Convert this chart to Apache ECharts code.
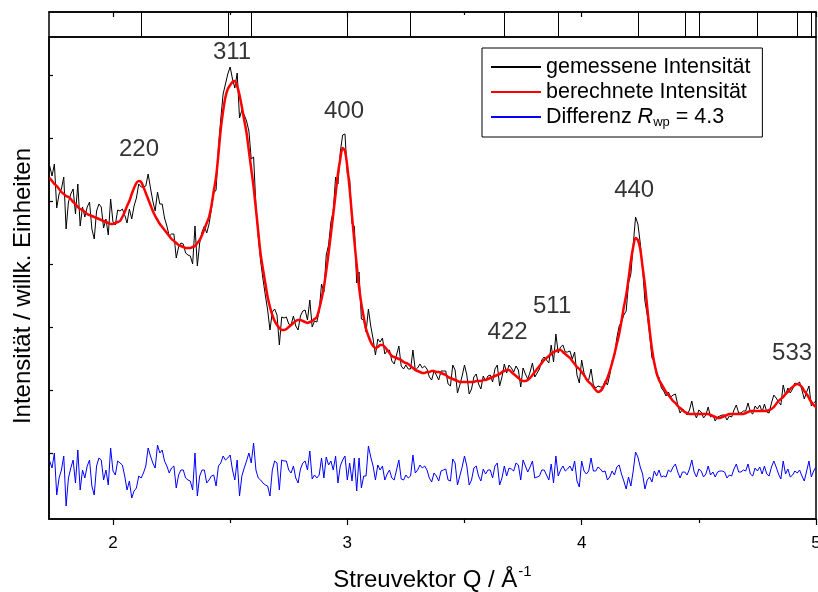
<!DOCTYPE html>
<html>
<head>
<meta charset="utf-8">
<script src="https://cdn.jsdelivr.net/npm/echarts@6/dist/echarts.min.js"></script>
<style>html,body{margin:0;padding:0;background:#fff}#c{width:818px;height:592px}</style>
</head>
<body>
<div id="c"></div>
<script>
// Scan grid
var qStart = 1.73;
var qStep = 0.01;

// gemessene Intensität (measured), one value per scan step
var measured = [
353,343,355,311,325,330,342,290,317,325,
330,305,335,293,312,302,312,317,290,280,
308,315,312,291,300,284,320,297,294,309,
308,310,304,296,310,300,313,321,335,332,
332,333,345,331,318,308,327,315,315,301,
293,283,285,285,261,272,276,275,266,264,
263,255,293,253,276,287,293,286,295,310,
326,329,372,400,425,435,445,452,440,431,
446,401,409,404,398,388,360,362,313,282,
258,240,224,209,189,207,210,204,174,202,
201,202,195,194,203,193,189,203,208,209,
199,219,192,198,197,208,235,227,264,274,
297,308,342,335,367,384,385,345,340,295,
293,236,247,200,199,187,210,193,180,164,
180,177,181,165,168,169,158,155,164,173,
153,150,154,150,150,169,149,151,155,151,
153,150,142,139,148,144,139,148,148,148,
135,133,154,149,126,134,143,154,144,125,
130,142,145,135,130,143,138,143,144,137,
150,154,133,142,155,146,154,151,147,153,
149,132,151,145,140,147,156,142,146,150,
159,162,159,156,174,157,185,166,172,174,
167,167,168,160,167,144,136,159,146,139,
139,150,134,131,133,132,132,138,134,144,
158,163,181,193,197,204,208,236,245,274,
302,295,276,251,218,204,185,161,158,143,
142,131,128,123,127,122,124,125,114,106,
110,108,104,109,118,106,101,109,107,101,
104,112,102,104,98,102,103,104,104,99,
103,102,109,114,106,106,108,108,116,107,
105,113,110,114,107,115,107,106,116,124,
121,117,114,134,124,131,126,130,136,135,
137,129,120,127,133,113,116,118
];

// berechnete Intensität (calculated)
var calculated = [
341,338,335,333,330,327,325,323,322,320,
317,315,312,310,309,307,305,304,303,302,
301,300,299,298,297,296,295,295,296,297,
298,302,307,313,318,325,331,336,338,337,
332,326,320,314,308,303,299,295,292,289,
286,283,280,278,276,274,273,272,271,271,
271,272,273,276,279,284,290,296,302,313,
328,342,365,390,408,422,430,434,437,438,
433,424,412,399,386,368,350,332,310,287,
265,250,236,222,212,204,198,194,191,189,
189,190,192,194,196,198,199,199,198,197,
196,197,198,200,202,210,220,232,248,266,
285,305,325,345,360,371,368,352,330,303,
278,254,232,215,202,190,183,177,173,171,
172,174,174,172,169,166,163,162,161,160,
159,157,156,155,153,151,149,148,147,146,
146,147,147,148,148,147,147,146,145,144,
142,141,140,139,138,137,137,137,137,137,
137,137,138,138,138,139,139,140,141,142,
143,144,145,147,148,149,149,147,145,143,
141,139,138,138,139,141,144,147,150,153,
156,159,161,163,165,167,168,169,169,167,
165,163,161,158,155,152,150,147,144,140,
137,135,132,129,127,128,131,136,141,148,
156,165,175,185,198,212,224,240,258,272,
281,279,270,252,234,211,189,170,156,146,
139,135,131,127,124,121,118,116,113,111,
109,107,106,105,105,105,105,105,105,105,
105,105,104,103,102,101,101,102,103,104,
105,105,105,105,105,105,105,106,107,108,
108,108,108,108,108,108,108,109,110,112,
115,118,120,122,125,127,130,132,134,135,
134,132,128,125,121,117,114,112
];

// Differenz (offset curve)
var difference = [
58,51,66,24,41,49,63,13,41,51,
59,36,69,29,49,41,53,59,33,24,
53,61,59,39,49,34,71,48,44,58,
56,54,43,29,38,21,28,31,43,41,
46,53,71,63,56,51,74,66,69,58,
53,46,51,53,31,44,49,49,41,39,
38,29,66,23,43,49,49,36,39,43,
44,33,53,56,63,59,61,64,49,39,
59,23,43,51,58,66,56,76,49,41,
39,36,34,33,23,49,58,56,29,59,
58,58,49,46,53,41,36,50,56,58,
49,68,40,44,41,44,61,41,62,54,
58,49,63,36,53,59,63,39,56,38,
61,28,61,31,43,43,73,62,53,39,
54,49,53,39,45,49,41,39,49,59,
40,39,44,41,43,64,46,49,54,51,
53,49,41,37,46,43,38,48,49,50,
39,38,60,56,34,43,52,63,53,34,
39,51,53,43,38,50,45,49,49,41,
53,56,34,41,53,43,51,50,48,56,
54,39,59,53,47,52,58,41,42,43,
49,49,44,39,55,36,63,43,49,53,
48,50,53,48,58,38,32,58,48,45,
48,61,48,48,52,50,47,48,39,42,
48,44,52,54,45,38,30,42,33,48,
67,62,52,45,30,39,42,37,48,43,
49,42,43,42,49,47,52,55,47,41,
47,47,44,50,59,47,42,50,48,42,
45,53,44,47,42,47,48,48,47,41,
44,43,50,55,47,47,49,48,55,45,
43,51,48,52,45,53,45,43,52,58,
52,45,40,58,45,50,42,44,48,46,
49,43,38,48,58,42,48,52
];

// Bragg reflection positions (top panel)
var reflections = [2.12, 2.49, 2.59, 3.00, 3.27, 3.675, 3.90, 4.24, 4.44, 4.50, 4.75, 4.92, 4.98];

// hkl annotations
var peakNames = ['220', '311', '400', '422', '511', '440', '533'];
var peakQ = [2.111, 2.508, 2.986, 3.684, 3.874, 4.224, 4.898];
var peakLabelI = [370, 467, 408, 187, 213, 329, 166];

var xMajorTicks = [2, 3, 4, 5];
var xMinorTicks = [2.5, 3.5, 4.5];
var yTicks = [66, 129, 192, 255, 318, 381, 444];

var seriesNames = ['gemessene Intensität', 'berechnete Intensität', 'Differenz'];

function pairs(arr) {
  var out = [];
  for (var i = 0; i < arr.length; i++) out.push([+(qStart + i * qStep).toFixed(4), arr[i]]);
  return out;
}
var peakData = [];
for (var k = 0; k < peakNames.length; k++) peakData.push({ value: [peakQ[k], peakLabelI[k]], name: peakNames[k] });

var FONT = 'Liberation Sans, Arial, sans-serif';
var X_MIN = 1.727, X_MAX = 5.0;

var chart = echarts.init(document.getElementById('c'), null, { renderer: 'canvas' });
chart.setOption({
  animation: false,
  backgroundColor: '#fff',
  textStyle: { fontFamily: FONT, color: '#000' },
  grid: [
    { left: 49, right: 2, top: 37, bottom: 73, show: true, borderColor: '#000', borderWidth: 1.5, backgroundColor: 'transparent', containLabel: false, outerBoundsMode: 'none' },
    { left: 49, right: 2, top: 12, height: 25, show: true, borderColor: '#000', borderWidth: 1.5, backgroundColor: 'transparent', containLabel: false, outerBoundsMode: 'none' }
  ],
  xAxis: [
    {
      type: 'value', gridIndex: 0, min: X_MIN, max: X_MAX, position: 'bottom',
      axisLine: { show: true, onZero: false, lineStyle: { color: '#000', width: 1.5 } },
      axisTick: { show: true, inside: false, length: 6, customValues: xMajorTicks, lineStyle: { color: '#000', width: 1.2 } },
      axisLabel: { show: true, customValues: xMajorTicks, margin: 16, color: '#000', fontSize: 17, fontFamily: FONT, hideOverlap: false },
      splitLine: { show: false },
      name: '{a|Streuvektor Q / Å}{s|-1}',
      nameLocation: 'middle', nameGap: 45,
      nameTextStyle: {
        color: '#000', fontFamily: FONT,
        rich: {
          a: { fontSize: 24, fontFamily: FONT, color: '#000', verticalAlign: 'bottom', lineHeight: 28 },
          s: { fontSize: 15, fontFamily: FONT, color: '#000', verticalAlign: 'top', lineHeight: 28, padding: [0, 0, 12, 1] }
        }
      }
    },
    {
      type: 'value', gridIndex: 0, min: X_MIN, max: X_MAX, position: 'bottom',
      axisLine: { show: false, onZero: false },
      axisTick: { show: true, inside: false, length: 4, customValues: xMinorTicks, lineStyle: { color: '#000', width: 1.2 } },
      axisLabel: { show: false }, splitLine: { show: false }
    },
    {
      type: 'value', gridIndex: 1, min: X_MIN, max: X_MAX, position: 'top',
      axisLine: { show: true, onZero: false, lineStyle: { color: '#000', width: 1.5 } },
      axisTick: { show: true, inside: true, length: 5, customValues: xMajorTicks, lineStyle: { color: '#000', width: 1.2 } },
      axisLabel: { show: false }, splitLine: { show: false }
    },
    {
      type: 'value', gridIndex: 1, min: X_MIN, max: X_MAX, position: 'top',
      axisLine: { show: false, onZero: false },
      axisTick: { show: true, inside: true, length: 3, customValues: xMinorTicks, lineStyle: { color: '#000', width: 1.2 } },
      axisLabel: { show: false }, splitLine: { show: false }
    }
  ],
  yAxis: [
    {
      type: 'value', gridIndex: 0, min: 0, max: 482, position: 'left',
      axisLine: { show: true, onZero: false, lineStyle: { color: '#000', width: 1.5 } },
      axisTick: { show: true, inside: true, length: 4, customValues: yTicks, lineStyle: { color: '#000', width: 1.2 } },
      axisLabel: { show: false }, splitLine: { show: false },
      name: 'Intensität / willk. Einheiten',
      nameLocation: 'middle', nameGap: 14, nameRotate: 90,
      nameTextStyle: { color: '#000', fontSize: 24, fontFamily: FONT, padding: [0, 16, 0, 0] }
    },
    {
      type: 'value', gridIndex: 1, min: 0, max: 1, show: false
    }
  ],
  legend: {
    show: true, orient: 'vertical', left: 482, top: 48,
    data: seriesNames,
    backgroundColor: '#fff', borderColor: '#000', borderWidth: 1, borderRadius: 0,
    padding: [8, 12, 8, 8], itemGap: 3, itemWidth: 50, itemHeight: 22,
    selectedMode: false,
    itemStyle: { color: 'rgba(0,0,0,0)', borderColor: 'rgba(0,0,0,0)', borderWidth: 0, opacity: 0 },
    textStyle: {
      color: '#000', fontSize: 21.5, fontFamily: FONT,
      rich: {
        n: { fontSize: 21.5, fontFamily: FONT, color: '#000' },
        i: { fontSize: 21.5, fontFamily: FONT, color: '#000', fontStyle: 'italic' },
        s: { fontSize: 13, fontFamily: FONT, color: '#000', verticalAlign: 'bottom', padding: [11, 0, 0, 0] }
      }
    },
    formatter: function (name) {
      if (name === 'Differenz') return '{n|Differenz }{i|R}{s|wp}{n| = 4.3}';
      return name;
    }
  },
  series: [
    {
      name: seriesNames[0], type: 'line', xAxisIndex: 0, yAxisIndex: 0,
      data: pairs(measured), symbol: 'none', showSymbol: false, smooth: false,
      lineStyle: { color: '#000', width: 1 }, itemStyle: { color: '#000' }, z: 2
    },
    {
      name: seriesNames[1], type: 'line', xAxisIndex: 0, yAxisIndex: 0,
      data: pairs(calculated), symbol: 'none', showSymbol: false, smooth: 0.3,
      lineStyle: { color: '#ff0000', width: 2.5 }, itemStyle: { color: '#ff0000' }, z: 3
    },
    {
      name: seriesNames[2], type: 'line', xAxisIndex: 0, yAxisIndex: 0,
      data: pairs(difference), symbol: 'none', showSymbol: false, smooth: false,
      lineStyle: { color: '#0000ff', width: 1 }, itemStyle: { color: '#0000ff' }, z: 2
    },
    {
      name: 'hkl', type: 'scatter', xAxisIndex: 0, yAxisIndex: 0,
      data: peakData, symbolSize: 0, silent: true, z: 5,
      label: {
        show: true, position: 'inside', formatter: '{b}',
        color: '#000', fontSize: 24, fontFamily: FONT
      }
    },
    {
      name: 'Reflexe', type: 'line', xAxisIndex: 2, yAxisIndex: 1,
      data: [], silent: true,
      markLine: {
        silent: true, symbol: ['none', 'none'], animation: false,
        label: { show: false },
        lineStyle: { color: '#000', width: 1, type: 'solid' },
        emphasis: { disabled: true },
        data: reflections.map(function (q) { return { xAxis: q }; })
      }
    }
  ]
});
</script>
</body>
</html>
